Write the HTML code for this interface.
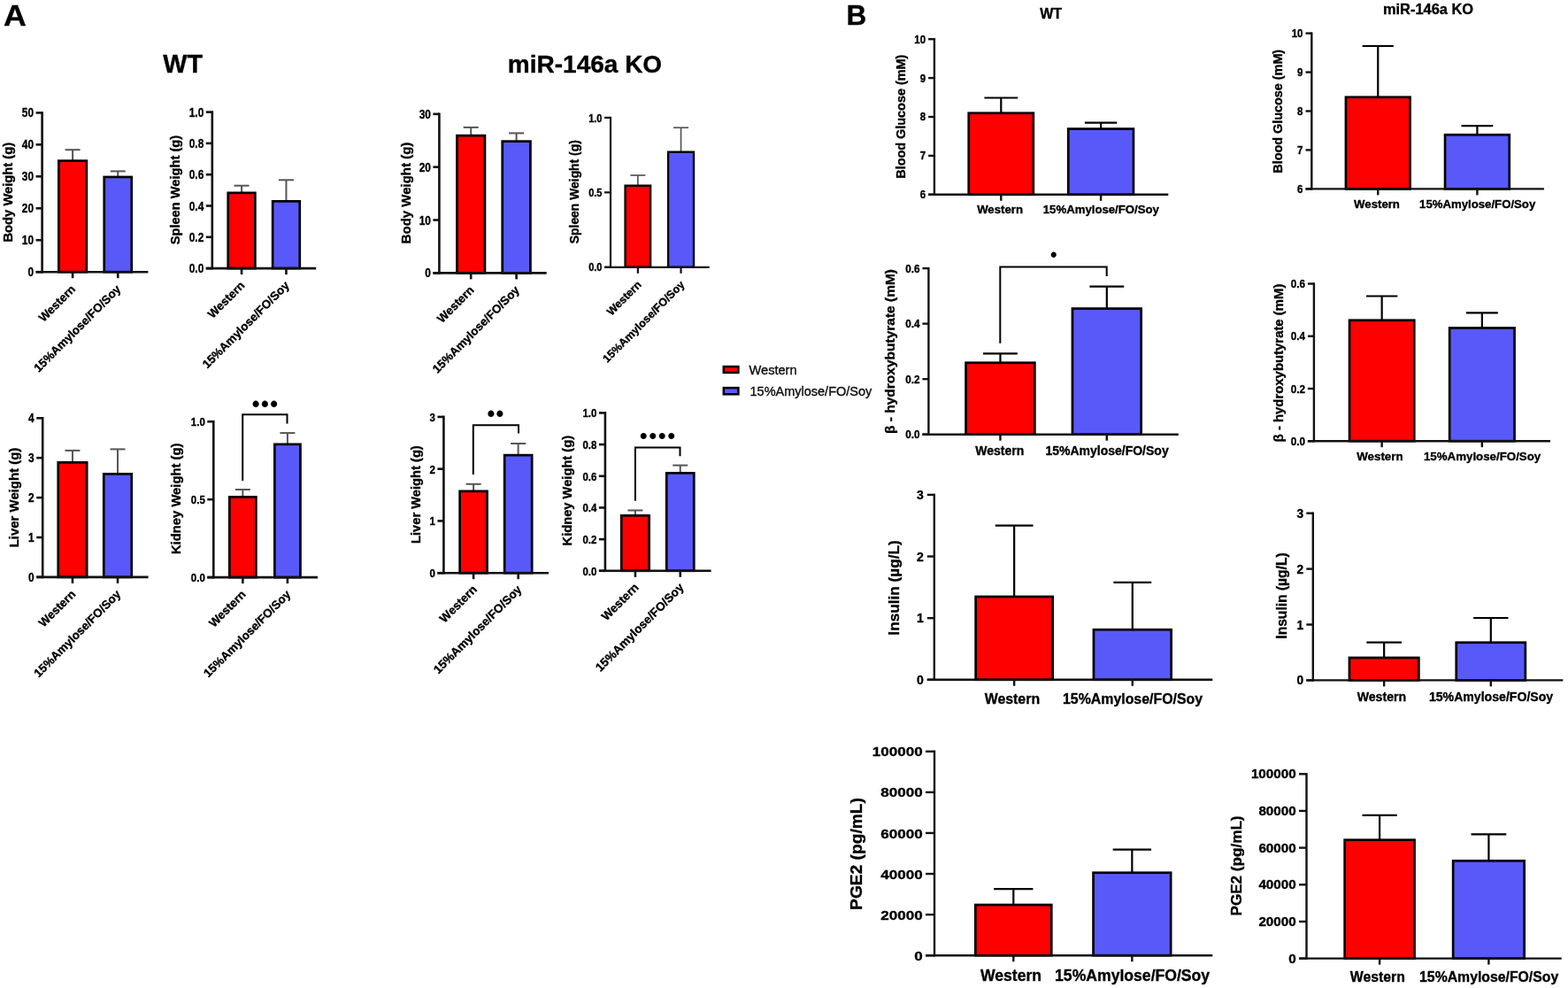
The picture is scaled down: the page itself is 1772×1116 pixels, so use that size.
<!DOCTYPE html>
<html><head><meta charset="utf-8"><title>Figure</title>
<style>html,body{margin:0;padding:0;background:#fff;}body{width:1772px;height:1116px;position:relative;overflow:hidden;}</style>
</head><body>
<svg width="1772" height="1116" viewBox="0 0 1772 1116" style="position:absolute;left:0;top:0">
<rect width="1772" height="1116" fill="#fff" stroke="none"/>
<g font-family="Liberation Sans, Arial, Helvetica, sans-serif" stroke="#000" stroke-width="0.35">
<text font-size="32.5" text-anchor="start" font-weight="bold" fill="#000" transform="translate(4 29.3) scale(1.1 1)">A</text>
<text font-size="28.8" text-anchor="middle" font-weight="bold" fill="#000" transform="translate(206.6 82.1)">WT</text>
<text font-size="28" text-anchor="middle" font-weight="bold" fill="#000" transform="translate(661 82)">miR-146a KO</text>
<text font-size="31.5" text-anchor="start" font-weight="bold" fill="#000" transform="translate(956.5 28.4)">B</text>
<text font-size="16" text-anchor="middle" font-weight="bold" fill="#000" transform="translate(1187.6 21.2)">WT</text>
<text font-size="16.4" text-anchor="middle" font-weight="bold" fill="#000" transform="translate(1614 15.6)">miR-146a KO</text>
<rect x="817.8" y="414.1" width="16.6" height="6.8" fill="#fe0000" stroke="#000" stroke-width="2.5"/>
<rect x="817.8" y="438.1" width="16.6" height="7.2" fill="#5959fa" stroke="#000" stroke-width="2.5"/>
<text font-size="14.6" text-anchor="start" font-weight="normal" fill="#111" transform="translate(846.5 422.7)">Western</text>
<text font-size="14.5" text-anchor="start" font-weight="normal" fill="#111" transform="translate(847.5 446.6)">15%Amylose/FO/Soy</text>
<line x1="47.6" y1="126.1" x2="47.6" y2="308.5" stroke="#111" stroke-width="2.6"/>
<line x1="40.6" y1="307.2" x2="47.6" y2="307.2" stroke="#111" stroke-width="2.6"/>
<text font-size="14" text-anchor="end" font-weight="bold" fill="#000" transform="translate(38.1 312.21) scale(0.85 1)">0</text>
<line x1="40.6" y1="271.24" x2="47.6" y2="271.24" stroke="#111" stroke-width="2.6"/>
<text font-size="14" text-anchor="end" font-weight="bold" fill="#000" transform="translate(38.1 276.25) scale(0.85 1)">10</text>
<line x1="40.6" y1="235.28" x2="47.6" y2="235.28" stroke="#111" stroke-width="2.6"/>
<text font-size="14" text-anchor="end" font-weight="bold" fill="#000" transform="translate(38.1 240.29) scale(0.85 1)">20</text>
<line x1="40.6" y1="199.32" x2="47.6" y2="199.32" stroke="#111" stroke-width="2.6"/>
<text font-size="14" text-anchor="end" font-weight="bold" fill="#000" transform="translate(38.1 204.33) scale(0.85 1)">30</text>
<line x1="40.6" y1="163.36" x2="47.6" y2="163.36" stroke="#111" stroke-width="2.6"/>
<text font-size="14" text-anchor="end" font-weight="bold" fill="#000" transform="translate(38.1 168.37) scale(0.85 1)">40</text>
<line x1="40.6" y1="127.4" x2="47.6" y2="127.4" stroke="#111" stroke-width="2.6"/>
<text font-size="14" text-anchor="end" font-weight="bold" fill="#000" transform="translate(38.1 132.41) scale(0.85 1)">50</text>
<line x1="82.1" y1="181.3" x2="82.1" y2="169.2" stroke="#555" stroke-width="2"/>
<line x1="73.6" y1="169.2" x2="90.6" y2="169.2" stroke="#555" stroke-width="2"/>
<rect x="66.35" y="181.65" width="31.5" height="125.55" fill="#fe0000" stroke="#000" stroke-width="2.7"/>
<line x1="82.1" y1="307.2" x2="82.1" y2="314.2" stroke="#111" stroke-width="2.6"/>
<line x1="133.25" y1="199.6" x2="133.25" y2="193.4" stroke="#555" stroke-width="2"/>
<line x1="124.75" y1="193.4" x2="141.75" y2="193.4" stroke="#555" stroke-width="2"/>
<rect x="117.75" y="199.95" width="31" height="107.25" fill="#5959fa" stroke="#000" stroke-width="2.7"/>
<line x1="133.25" y1="307.2" x2="133.25" y2="314.2" stroke="#111" stroke-width="2.6"/>
<line x1="40.6" y1="307.2" x2="167.4" y2="307.2" stroke="#111" stroke-width="2.6"/>
<text font-size="13.3" text-anchor="end" font-weight="bold" fill="#000" transform="translate(86.1 327.4) rotate(-45)">Western</text>
<text font-size="13.3" text-anchor="end" font-weight="bold" fill="#000" transform="translate(137.25 327.4) rotate(-45)">15%Amylose/FO/Soy</text>
<text font-size="14.75" text-anchor="middle" font-weight="bold" fill="#000" transform="translate(13.9 217.2) rotate(-90)">Body Weight (g)</text>
<line x1="239.8" y1="125.3" x2="239.8" y2="304.4" stroke="#111" stroke-width="2.6"/>
<line x1="232.8" y1="303.1" x2="239.8" y2="303.1" stroke="#111" stroke-width="2.6"/>
<text font-size="14" text-anchor="end" font-weight="bold" fill="#000" transform="translate(230.3 308.11) scale(0.85 1)">0.0</text>
<line x1="232.8" y1="267.8" x2="239.8" y2="267.8" stroke="#111" stroke-width="2.6"/>
<text font-size="14" text-anchor="end" font-weight="bold" fill="#000" transform="translate(230.3 272.81) scale(0.85 1)">0.2</text>
<line x1="232.8" y1="232.5" x2="239.8" y2="232.5" stroke="#111" stroke-width="2.6"/>
<text font-size="14" text-anchor="end" font-weight="bold" fill="#000" transform="translate(230.3 237.51) scale(0.85 1)">0.4</text>
<line x1="232.8" y1="197.2" x2="239.8" y2="197.2" stroke="#111" stroke-width="2.6"/>
<text font-size="14" text-anchor="end" font-weight="bold" fill="#000" transform="translate(230.3 202.21) scale(0.85 1)">0.6</text>
<line x1="232.8" y1="161.9" x2="239.8" y2="161.9" stroke="#111" stroke-width="2.6"/>
<text font-size="14" text-anchor="end" font-weight="bold" fill="#000" transform="translate(230.3 166.91) scale(0.85 1)">0.8</text>
<line x1="232.8" y1="126.6" x2="239.8" y2="126.6" stroke="#111" stroke-width="2.6"/>
<text font-size="14" text-anchor="end" font-weight="bold" fill="#000" transform="translate(230.3 131.61) scale(0.85 1)">1.0</text>
<line x1="273.05" y1="217.5" x2="273.05" y2="209.7" stroke="#555" stroke-width="2"/>
<line x1="264.55" y1="209.7" x2="281.55" y2="209.7" stroke="#555" stroke-width="2"/>
<rect x="257.75" y="217.85" width="30.6" height="85.25" fill="#fe0000" stroke="#000" stroke-width="2.7"/>
<line x1="273.05" y1="303.1" x2="273.05" y2="310.1" stroke="#111" stroke-width="2.6"/>
<line x1="323.45" y1="227" x2="323.45" y2="203.3" stroke="#555" stroke-width="2"/>
<line x1="314.95" y1="203.3" x2="331.95" y2="203.3" stroke="#555" stroke-width="2"/>
<rect x="308.15" y="227.35" width="30.6" height="75.75" fill="#5959fa" stroke="#000" stroke-width="2.7"/>
<line x1="323.45" y1="303.1" x2="323.45" y2="310.1" stroke="#111" stroke-width="2.6"/>
<line x1="232.8" y1="303.1" x2="357.2" y2="303.1" stroke="#111" stroke-width="2.6"/>
<text font-size="13.3" text-anchor="end" font-weight="bold" fill="#000" transform="translate(277.3 323.3) rotate(-45)">Western</text>
<text font-size="13.3" text-anchor="end" font-weight="bold" fill="#000" transform="translate(327.7 323.3) rotate(-45)">15%Amylose/FO/Soy</text>
<text font-size="14.66" text-anchor="middle" font-weight="bold" fill="#000" transform="translate(202.6 214.6) rotate(-90)">Spleen Weight (g)</text>
<line x1="496.4" y1="127.5" x2="496.4" y2="309.7" stroke="#111" stroke-width="2.6"/>
<line x1="489.4" y1="308.4" x2="496.4" y2="308.4" stroke="#111" stroke-width="2.6"/>
<text font-size="14" text-anchor="end" font-weight="bold" fill="#000" transform="translate(486.9 313.41) scale(0.85 1)">0</text>
<line x1="489.4" y1="248.53" x2="496.4" y2="248.53" stroke="#111" stroke-width="2.6"/>
<text font-size="14" text-anchor="end" font-weight="bold" fill="#000" transform="translate(486.9 253.55) scale(0.85 1)">10</text>
<line x1="489.4" y1="188.67" x2="496.4" y2="188.67" stroke="#111" stroke-width="2.6"/>
<text font-size="14" text-anchor="end" font-weight="bold" fill="#000" transform="translate(486.9 193.68) scale(0.85 1)">20</text>
<line x1="489.4" y1="128.8" x2="496.4" y2="128.8" stroke="#111" stroke-width="2.6"/>
<text font-size="14" text-anchor="end" font-weight="bold" fill="#000" transform="translate(486.9 133.81) scale(0.85 1)">30</text>
<line x1="532.2" y1="152.8" x2="532.2" y2="143.9" stroke="#555" stroke-width="2"/>
<line x1="523.7" y1="143.9" x2="540.7" y2="143.9" stroke="#555" stroke-width="2"/>
<rect x="516.45" y="153.15" width="31.5" height="155.25" fill="#fe0000" stroke="#000" stroke-width="2.7"/>
<line x1="532.2" y1="308.4" x2="532.2" y2="315.4" stroke="#111" stroke-width="2.6"/>
<line x1="583.6" y1="159.3" x2="583.6" y2="150.4" stroke="#555" stroke-width="2"/>
<line x1="575.1" y1="150.4" x2="592.1" y2="150.4" stroke="#555" stroke-width="2"/>
<rect x="567.75" y="159.65" width="31.7" height="148.75" fill="#5959fa" stroke="#000" stroke-width="2.7"/>
<line x1="583.6" y1="308.4" x2="583.6" y2="315.4" stroke="#111" stroke-width="2.6"/>
<line x1="489.4" y1="308.4" x2="617.7" y2="308.4" stroke="#111" stroke-width="2.6"/>
<text font-size="13.3" text-anchor="end" font-weight="bold" fill="#000" transform="translate(536.45 328.6) rotate(-45)">Western</text>
<text font-size="13.3" text-anchor="end" font-weight="bold" fill="#000" transform="translate(587.85 328.6) rotate(-45)">15%Amylose/FO/Soy</text>
<text font-size="15" text-anchor="middle" font-weight="bold" fill="#000" transform="translate(464.2 218) rotate(-90)">Body Weight (g)</text>
<line x1="690" y1="131.8" x2="690" y2="302.9" stroke="#111" stroke-width="2.2"/>
<line x1="683" y1="301.8" x2="690" y2="301.8" stroke="#111" stroke-width="2.2"/>
<text font-size="13" text-anchor="end" font-weight="bold" fill="#000" transform="translate(680.5 306.45) scale(0.85 1)">0.0</text>
<line x1="683" y1="217.35" x2="690" y2="217.35" stroke="#111" stroke-width="2.2"/>
<text font-size="13" text-anchor="end" font-weight="bold" fill="#000" transform="translate(680.5 222) scale(0.85 1)">0.5</text>
<line x1="683" y1="132.9" x2="690" y2="132.9" stroke="#111" stroke-width="2.2"/>
<text font-size="13" text-anchor="end" font-weight="bold" fill="#000" transform="translate(680.5 137.55) scale(0.85 1)">1.0</text>
<line x1="720.85" y1="209.5" x2="720.85" y2="198" stroke="#555" stroke-width="1.7"/>
<line x1="712.35" y1="198" x2="729.35" y2="198" stroke="#555" stroke-width="1.7"/>
<rect x="706.6" y="209.7" width="28.5" height="92.1" fill="#fe0000" stroke="#000" stroke-width="2.4"/>
<line x1="720.85" y1="301.8" x2="720.85" y2="308.8" stroke="#111" stroke-width="2.2"/>
<line x1="769.55" y1="171.5" x2="769.55" y2="144.2" stroke="#555" stroke-width="1.7"/>
<line x1="761.05" y1="144.2" x2="778.05" y2="144.2" stroke="#555" stroke-width="1.7"/>
<rect x="755.1" y="171.7" width="28.9" height="130.1" fill="#5959fa" stroke="#000" stroke-width="2.4"/>
<line x1="769.55" y1="301.8" x2="769.55" y2="308.8" stroke="#111" stroke-width="2.2"/>
<line x1="683" y1="301.8" x2="801.7" y2="301.8" stroke="#111" stroke-width="2.2"/>
<text font-size="12.5" text-anchor="end" font-weight="bold" fill="#000" transform="translate(725.6 322.3) rotate(-45)">Western</text>
<text font-size="12.5" text-anchor="end" font-weight="bold" fill="#000" transform="translate(774.3 322.3) rotate(-45)">15%Amylose/FO/Soy</text>
<text font-size="13.9" text-anchor="middle" font-weight="bold" fill="#000" transform="translate(653.5 216.7) rotate(-90)">Spleen Weight (g)</text>
<line x1="48.2" y1="471" x2="48.2" y2="653.2" stroke="#111" stroke-width="2.6"/>
<line x1="41.2" y1="651.9" x2="48.2" y2="651.9" stroke="#111" stroke-width="2.6"/>
<text font-size="14" text-anchor="end" font-weight="bold" fill="#000" transform="translate(38.7 656.91) scale(0.85 1)">0</text>
<line x1="41.2" y1="607" x2="48.2" y2="607" stroke="#111" stroke-width="2.6"/>
<text font-size="14" text-anchor="end" font-weight="bold" fill="#000" transform="translate(38.7 612.01) scale(0.85 1)">1</text>
<line x1="41.2" y1="562.1" x2="48.2" y2="562.1" stroke="#111" stroke-width="2.6"/>
<text font-size="14" text-anchor="end" font-weight="bold" fill="#000" transform="translate(38.7 567.11) scale(0.85 1)">2</text>
<line x1="41.2" y1="517.2" x2="48.2" y2="517.2" stroke="#111" stroke-width="2.6"/>
<text font-size="14" text-anchor="end" font-weight="bold" fill="#000" transform="translate(38.7 522.21) scale(0.85 1)">3</text>
<line x1="41.2" y1="472.3" x2="48.2" y2="472.3" stroke="#111" stroke-width="2.6"/>
<text font-size="14" text-anchor="end" font-weight="bold" fill="#000" transform="translate(38.7 477.31) scale(0.85 1)">4</text>
<line x1="81.95" y1="522" x2="81.95" y2="508.9" stroke="#555" stroke-width="2"/>
<line x1="73.45" y1="508.9" x2="90.45" y2="508.9" stroke="#555" stroke-width="2"/>
<rect x="65.75" y="522.35" width="32.4" height="129.55" fill="#fe0000" stroke="#000" stroke-width="2.7"/>
<line x1="81.95" y1="651.9" x2="81.95" y2="658.9" stroke="#111" stroke-width="2.6"/>
<line x1="133" y1="535" x2="133" y2="507.4" stroke="#555" stroke-width="2"/>
<line x1="124.5" y1="507.4" x2="141.5" y2="507.4" stroke="#555" stroke-width="2"/>
<rect x="117.25" y="535.35" width="31.5" height="116.55" fill="#5959fa" stroke="#000" stroke-width="2.7"/>
<line x1="133" y1="651.9" x2="133" y2="658.9" stroke="#111" stroke-width="2.6"/>
<line x1="41.2" y1="651.9" x2="167.6" y2="651.9" stroke="#111" stroke-width="2.6"/>
<text font-size="13.3" text-anchor="end" font-weight="bold" fill="#000" transform="translate(86.2 672.1) rotate(-45)">Western</text>
<text font-size="13.3" text-anchor="end" font-weight="bold" fill="#000" transform="translate(137.25 672.1) rotate(-45)">15%Amylose/FO/Soy</text>
<text font-size="14.95" text-anchor="middle" font-weight="bold" fill="#000" transform="translate(20.7 562) rotate(-90)">Liver Weight (g)</text>
<line x1="241.3" y1="474.9" x2="241.3" y2="653.4" stroke="#111" stroke-width="2.6"/>
<line x1="234.3" y1="652.1" x2="241.3" y2="652.1" stroke="#111" stroke-width="2.6"/>
<text font-size="13.5" text-anchor="end" font-weight="bold" fill="#000" transform="translate(231.8 656.93) scale(0.85 1)">0.0</text>
<line x1="234.3" y1="564.15" x2="241.3" y2="564.15" stroke="#111" stroke-width="2.6"/>
<text font-size="13.5" text-anchor="end" font-weight="bold" fill="#000" transform="translate(231.8 568.98) scale(0.85 1)">0.5</text>
<line x1="234.3" y1="476.2" x2="241.3" y2="476.2" stroke="#111" stroke-width="2.6"/>
<text font-size="13.5" text-anchor="end" font-weight="bold" fill="#000" transform="translate(231.8 481.03) scale(0.85 1)">1.0</text>
<line x1="274.35" y1="561" x2="274.35" y2="553" stroke="#555" stroke-width="2"/>
<line x1="265.85" y1="553" x2="282.85" y2="553" stroke="#555" stroke-width="2"/>
<rect x="259.35" y="561.35" width="30" height="90.75" fill="#fe0000" stroke="#000" stroke-width="2.7"/>
<line x1="274.35" y1="652.1" x2="274.35" y2="659.1" stroke="#111" stroke-width="2.6"/>
<line x1="324.9" y1="501.5" x2="324.9" y2="489.1" stroke="#555" stroke-width="2"/>
<line x1="316.4" y1="489.1" x2="333.4" y2="489.1" stroke="#555" stroke-width="2"/>
<rect x="310.35" y="501.85" width="29.1" height="150.25" fill="#5959fa" stroke="#000" stroke-width="2.7"/>
<line x1="324.9" y1="652.1" x2="324.9" y2="659.1" stroke="#111" stroke-width="2.6"/>
<line x1="234.3" y1="652.1" x2="359" y2="652.1" stroke="#111" stroke-width="2.6"/>
<text font-size="13.3" text-anchor="end" font-weight="bold" fill="#000" transform="translate(278.6 672.3) rotate(-45)">Western</text>
<text font-size="13.3" text-anchor="end" font-weight="bold" fill="#000" transform="translate(329.15 672.3) rotate(-45)">15%Amylose/FO/Soy</text>
<text font-size="14.8" text-anchor="middle" font-weight="bold" fill="#000" transform="translate(204.2 563.3) rotate(-90)">Kidney Weight (g)</text>
<polyline points="274.2,542.9 274.2,468.3 324.5,468.3 324.5,478.4" fill="none" stroke="#000" stroke-width="2"/>
<text x="289.2 299.4 309.6" y="464.9" font-size="25" text-anchor="middle" font-weight="bold" stroke="none">•••</text>
<line x1="501.4" y1="469.6" x2="501.4" y2="648.5" stroke="#111" stroke-width="2.6"/>
<line x1="494.4" y1="647.2" x2="501.4" y2="647.2" stroke="#111" stroke-width="2.6"/>
<text font-size="13.5" text-anchor="end" font-weight="bold" fill="#000" transform="translate(491.9 652.03) scale(0.85 1)">0</text>
<line x1="494.4" y1="588.43" x2="501.4" y2="588.43" stroke="#111" stroke-width="2.6"/>
<text font-size="13.5" text-anchor="end" font-weight="bold" fill="#000" transform="translate(491.9 593.27) scale(0.85 1)">1</text>
<line x1="494.4" y1="529.67" x2="501.4" y2="529.67" stroke="#111" stroke-width="2.6"/>
<text font-size="13.5" text-anchor="end" font-weight="bold" fill="#000" transform="translate(491.9 534.5) scale(0.85 1)">2</text>
<line x1="494.4" y1="470.9" x2="501.4" y2="470.9" stroke="#111" stroke-width="2.6"/>
<text font-size="13.5" text-anchor="end" font-weight="bold" fill="#000" transform="translate(491.9 475.73) scale(0.85 1)">3</text>
<line x1="535.1" y1="554.5" x2="535.1" y2="546.8" stroke="#555" stroke-width="2"/>
<line x1="526.6" y1="546.8" x2="543.6" y2="546.8" stroke="#555" stroke-width="2"/>
<rect x="519.65" y="554.85" width="30.9" height="92.35" fill="#fe0000" stroke="#000" stroke-width="2.7"/>
<line x1="535.1" y1="647.2" x2="535.1" y2="654.2" stroke="#111" stroke-width="2.6"/>
<line x1="585.65" y1="513.8" x2="585.65" y2="501" stroke="#555" stroke-width="2"/>
<line x1="577.15" y1="501" x2="594.15" y2="501" stroke="#555" stroke-width="2"/>
<rect x="570.15" y="514.15" width="31" height="133.05" fill="#5959fa" stroke="#000" stroke-width="2.7"/>
<line x1="585.65" y1="647.2" x2="585.65" y2="654.2" stroke="#111" stroke-width="2.6"/>
<line x1="494.4" y1="647.2" x2="620" y2="647.2" stroke="#111" stroke-width="2.6"/>
<text font-size="13.5" text-anchor="end" font-weight="bold" fill="#000" transform="translate(539.85 666.7) rotate(-45)">Western</text>
<text font-size="13.5" text-anchor="end" font-weight="bold" fill="#000" transform="translate(590.4 666.7) rotate(-45)">15%Amylose/FO/Soy</text>
<text font-size="14.7" text-anchor="middle" font-weight="bold" fill="#000" transform="translate(475.4 558.6) rotate(-90)">Liver Weight (g)</text>
<polyline points="534.8,535.9 534.8,480.2 586,480.2 586,489.5" fill="none" stroke="#000" stroke-width="2"/>
<text x="555 565" y="476.3" font-size="25" text-anchor="middle" font-weight="bold" stroke="none">••</text>
<line x1="683.9" y1="465.1" x2="683.9" y2="646.1" stroke="#111" stroke-width="2.6"/>
<line x1="676.9" y1="644.8" x2="683.9" y2="644.8" stroke="#111" stroke-width="2.6"/>
<text font-size="13.5" text-anchor="end" font-weight="bold" fill="#000" transform="translate(674.4 649.63) scale(0.85 1)">0.0</text>
<line x1="676.9" y1="609.12" x2="683.9" y2="609.12" stroke="#111" stroke-width="2.6"/>
<text font-size="13.5" text-anchor="end" font-weight="bold" fill="#000" transform="translate(674.4 613.95) scale(0.85 1)">0.2</text>
<line x1="676.9" y1="573.44" x2="683.9" y2="573.44" stroke="#111" stroke-width="2.6"/>
<text font-size="13.5" text-anchor="end" font-weight="bold" fill="#000" transform="translate(674.4 578.27) scale(0.85 1)">0.4</text>
<line x1="676.9" y1="537.76" x2="683.9" y2="537.76" stroke="#111" stroke-width="2.6"/>
<text font-size="13.5" text-anchor="end" font-weight="bold" fill="#000" transform="translate(674.4 542.59) scale(0.85 1)">0.6</text>
<line x1="676.9" y1="502.08" x2="683.9" y2="502.08" stroke="#111" stroke-width="2.6"/>
<text font-size="13.5" text-anchor="end" font-weight="bold" fill="#000" transform="translate(674.4 506.91) scale(0.85 1)">0.8</text>
<line x1="676.9" y1="466.4" x2="683.9" y2="466.4" stroke="#111" stroke-width="2.6"/>
<text font-size="13.5" text-anchor="end" font-weight="bold" fill="#000" transform="translate(674.4 471.23) scale(0.85 1)">1.0</text>
<line x1="717.95" y1="582" x2="717.95" y2="576.5" stroke="#555" stroke-width="2"/>
<line x1="709.45" y1="576.5" x2="726.45" y2="576.5" stroke="#555" stroke-width="2"/>
<rect x="702.25" y="582.35" width="31.4" height="62.45" fill="#fe0000" stroke="#000" stroke-width="2.7"/>
<line x1="717.95" y1="644.8" x2="717.95" y2="651.8" stroke="#111" stroke-width="2.6"/>
<line x1="768.75" y1="534" x2="768.75" y2="525.6" stroke="#555" stroke-width="2"/>
<line x1="760.25" y1="525.6" x2="777.25" y2="525.6" stroke="#555" stroke-width="2"/>
<rect x="753.25" y="534.35" width="31" height="110.45" fill="#5959fa" stroke="#000" stroke-width="2.7"/>
<line x1="768.75" y1="644.8" x2="768.75" y2="651.8" stroke="#111" stroke-width="2.6"/>
<line x1="676.9" y1="644.8" x2="803.6" y2="644.8" stroke="#111" stroke-width="2.6"/>
<text font-size="13.5" text-anchor="end" font-weight="bold" fill="#000" transform="translate(722.7 664.3) rotate(-45)">Western</text>
<text font-size="13.5" text-anchor="end" font-weight="bold" fill="#000" transform="translate(773.5 664.3) rotate(-45)">15%Amylose/FO/Soy</text>
<text font-size="14.7" text-anchor="middle" font-weight="bold" fill="#000" transform="translate(646.2 554.2) rotate(-90)">Kidney Weight (g)</text>
<polyline points="717.9,565.8 717.9,505.6 768.5,505.6 768.5,515.3" fill="none" stroke="#000" stroke-width="2"/>
<text x="727.15 737.65 748.15 758.65" y="501.16" font-size="24.29" text-anchor="middle" font-weight="bold" stroke="none">••••</text>
<line x1="1055.9" y1="43" x2="1055.9" y2="221" stroke="#111" stroke-width="2.4"/>
<line x1="1049.1" y1="219.8" x2="1055.9" y2="219.8" stroke="#111" stroke-width="2.4"/>
<text font-size="12.5" text-anchor="end" font-weight="bold" fill="#000" transform="translate(1046.1 224.28) scale(0.92 1)">6</text>
<line x1="1049.1" y1="175.9" x2="1055.9" y2="175.9" stroke="#111" stroke-width="2.4"/>
<text font-size="12.5" text-anchor="end" font-weight="bold" fill="#000" transform="translate(1046.1 180.38) scale(0.92 1)">7</text>
<line x1="1049.1" y1="132" x2="1055.9" y2="132" stroke="#111" stroke-width="2.4"/>
<text font-size="12.5" text-anchor="end" font-weight="bold" fill="#000" transform="translate(1046.1 136.47) scale(0.92 1)">8</text>
<line x1="1049.1" y1="88.1" x2="1055.9" y2="88.1" stroke="#111" stroke-width="2.4"/>
<text font-size="12.5" text-anchor="end" font-weight="bold" fill="#000" transform="translate(1046.1 92.57) scale(0.92 1)">9</text>
<line x1="1049.1" y1="44.2" x2="1055.9" y2="44.2" stroke="#111" stroke-width="2.4"/>
<text font-size="12.5" text-anchor="end" font-weight="bold" fill="#000" transform="translate(1046.1 48.67) scale(0.92 1)">10</text>
<line x1="1131.3" y1="127.4" x2="1131.3" y2="110.5" stroke="#000" stroke-width="2.2"/>
<line x1="1112.4" y1="110.5" x2="1150.2" y2="110.5" stroke="#000" stroke-width="2.2"/>
<rect x="1094.75" y="127.75" width="73.1" height="92.05" fill="#fe0000" stroke="#000" stroke-width="2.7"/>
<line x1="1131.3" y1="219.8" x2="1131.3" y2="226.8" stroke="#111" stroke-width="2.4"/>
<line x1="1244.1" y1="145.2" x2="1244.1" y2="138.7" stroke="#000" stroke-width="2.2"/>
<line x1="1225.9" y1="138.7" x2="1262.3" y2="138.7" stroke="#000" stroke-width="2.2"/>
<rect x="1207.25" y="145.55" width="73.7" height="74.25" fill="#5959fa" stroke="#000" stroke-width="2.7"/>
<line x1="1244.1" y1="219.8" x2="1244.1" y2="226.8" stroke="#111" stroke-width="2.4"/>
<line x1="1049.1" y1="219.8" x2="1320.3" y2="219.8" stroke="#111" stroke-width="2.4"/>
<text font-size="13.2" text-anchor="middle" font-weight="bold" fill="#000" transform="translate(1130.05 241.3)">Western</text>
<text font-size="13.2" text-anchor="middle" font-weight="bold" fill="#000" transform="translate(1244.35 241.3)">15%Amylose/FO/Soy</text>
<text font-size="14.4" text-anchor="middle" font-weight="bold" fill="#000" transform="translate(1022.8 131.7) rotate(-90)">Blood Glucose (mM)</text>
<line x1="1482.3" y1="36.4" x2="1482.3" y2="214.6" stroke="#111" stroke-width="2.4"/>
<line x1="1475.5" y1="213.4" x2="1482.3" y2="213.4" stroke="#111" stroke-width="2.4"/>
<text font-size="12.5" text-anchor="end" font-weight="bold" fill="#000" transform="translate(1472.5 217.88) scale(0.92 1)">6</text>
<line x1="1475.5" y1="169.45" x2="1482.3" y2="169.45" stroke="#111" stroke-width="2.4"/>
<text font-size="12.5" text-anchor="end" font-weight="bold" fill="#000" transform="translate(1472.5 173.92) scale(0.92 1)">7</text>
<line x1="1475.5" y1="125.5" x2="1482.3" y2="125.5" stroke="#111" stroke-width="2.4"/>
<text font-size="12.5" text-anchor="end" font-weight="bold" fill="#000" transform="translate(1472.5 129.97) scale(0.92 1)">8</text>
<line x1="1475.5" y1="81.55" x2="1482.3" y2="81.55" stroke="#111" stroke-width="2.4"/>
<text font-size="12.5" text-anchor="end" font-weight="bold" fill="#000" transform="translate(1472.5 86.02) scale(0.92 1)">9</text>
<line x1="1475.5" y1="37.6" x2="1482.3" y2="37.6" stroke="#111" stroke-width="2.4"/>
<text font-size="12.5" text-anchor="end" font-weight="bold" fill="#000" transform="translate(1472.5 42.07) scale(0.92 1)">10</text>
<line x1="1557.25" y1="109.4" x2="1557.25" y2="52" stroke="#000" stroke-width="2.2"/>
<line x1="1539.65" y1="52" x2="1574.85" y2="52" stroke="#000" stroke-width="2.2"/>
<rect x="1520.95" y="109.75" width="72.6" height="103.65" fill="#fe0000" stroke="#000" stroke-width="2.7"/>
<line x1="1557.25" y1="213.4" x2="1557.25" y2="220.4" stroke="#111" stroke-width="2.4"/>
<line x1="1669.4" y1="151.9" x2="1669.4" y2="142.2" stroke="#000" stroke-width="2.2"/>
<line x1="1651.5" y1="142.2" x2="1687.3" y2="142.2" stroke="#000" stroke-width="2.2"/>
<rect x="1633.05" y="152.25" width="72.7" height="61.15" fill="#5959fa" stroke="#000" stroke-width="2.7"/>
<line x1="1669.4" y1="213.4" x2="1669.4" y2="220.4" stroke="#111" stroke-width="2.4"/>
<line x1="1475.5" y1="213.4" x2="1744.9" y2="213.4" stroke="#111" stroke-width="2.4"/>
<text font-size="13.2" text-anchor="middle" font-weight="bold" fill="#000" transform="translate(1556 234.9)">Western</text>
<text font-size="13.2" text-anchor="middle" font-weight="bold" fill="#000" transform="translate(1669.65 234.9)">15%Amylose/FO/Soy</text>
<text font-size="14.4" text-anchor="middle" font-weight="bold" fill="#000" transform="translate(1448.7 125.8) rotate(-90)">Blood Glucose (mM)</text>
<line x1="1049.4" y1="301.9" x2="1049.4" y2="491.9" stroke="#111" stroke-width="2.4"/>
<line x1="1042.4" y1="490.7" x2="1049.4" y2="490.7" stroke="#111" stroke-width="2.4"/>
<text font-size="13" text-anchor="end" font-weight="bold" fill="#000" transform="translate(1039.4 495.35) scale(0.9 1)">0.0</text>
<line x1="1042.4" y1="428.17" x2="1049.4" y2="428.17" stroke="#111" stroke-width="2.4"/>
<text font-size="13" text-anchor="end" font-weight="bold" fill="#000" transform="translate(1039.4 432.82) scale(0.9 1)">0.2</text>
<line x1="1042.4" y1="365.63" x2="1049.4" y2="365.63" stroke="#111" stroke-width="2.4"/>
<text font-size="13" text-anchor="end" font-weight="bold" fill="#000" transform="translate(1039.4 370.29) scale(0.9 1)">0.4</text>
<line x1="1042.4" y1="303.1" x2="1049.4" y2="303.1" stroke="#111" stroke-width="2.4"/>
<text font-size="13" text-anchor="end" font-weight="bold" fill="#000" transform="translate(1039.4 307.75) scale(0.9 1)">0.6</text>
<line x1="1130.45" y1="409.4" x2="1130.45" y2="399.4" stroke="#000" stroke-width="2.2"/>
<line x1="1111.05" y1="399.4" x2="1149.85" y2="399.4" stroke="#000" stroke-width="2.2"/>
<rect x="1091.55" y="409.75" width="77.8" height="80.95" fill="#fe0000" stroke="#000" stroke-width="2.7"/>
<line x1="1130.45" y1="490.7" x2="1130.45" y2="497.7" stroke="#111" stroke-width="2.4"/>
<line x1="1250.8" y1="348.2" x2="1250.8" y2="323.6" stroke="#000" stroke-width="2.2"/>
<line x1="1231.4" y1="323.6" x2="1270.2" y2="323.6" stroke="#000" stroke-width="2.2"/>
<rect x="1211.95" y="348.55" width="77.7" height="142.15" fill="#5959fa" stroke="#000" stroke-width="2.7"/>
<line x1="1250.8" y1="490.7" x2="1250.8" y2="497.7" stroke="#111" stroke-width="2.4"/>
<line x1="1042.4" y1="490.7" x2="1331.8" y2="490.7" stroke="#111" stroke-width="2.4"/>
<text font-size="14" text-anchor="middle" font-weight="bold" fill="#000" transform="translate(1129.7 514.2)">Western</text>
<text font-size="14" text-anchor="middle" font-weight="bold" fill="#000" transform="translate(1251.05 514.2)">15%Amylose/FO/Soy</text>
<text font-size="15.5" text-anchor="middle" font-weight="bold" fill="#000" transform="translate(1011 397) rotate(-90)">β - hydroxybutyrate (mM)</text>
<polyline points="1130.3,387.7 1130.3,301.5 1250.7,301.5 1250.7,312" fill="none" stroke="#000" stroke-width="2"/>
<text x="1190.8" y="295.49" font-size="21.43" text-anchor="middle" font-weight="bold" stroke="none">•</text>
<line x1="1484.9" y1="319.3" x2="1484.9" y2="499.4" stroke="#111" stroke-width="2.4"/>
<line x1="1477.9" y1="498.2" x2="1484.9" y2="498.2" stroke="#111" stroke-width="2.4"/>
<text font-size="13" text-anchor="end" font-weight="bold" fill="#000" transform="translate(1474.9 502.85) scale(0.9 1)">0.0</text>
<line x1="1477.9" y1="438.97" x2="1484.9" y2="438.97" stroke="#111" stroke-width="2.4"/>
<text font-size="13" text-anchor="end" font-weight="bold" fill="#000" transform="translate(1474.9 443.62) scale(0.9 1)">0.2</text>
<line x1="1477.9" y1="379.73" x2="1484.9" y2="379.73" stroke="#111" stroke-width="2.4"/>
<text font-size="13" text-anchor="end" font-weight="bold" fill="#000" transform="translate(1474.9 384.39) scale(0.9 1)">0.4</text>
<line x1="1477.9" y1="320.5" x2="1484.9" y2="320.5" stroke="#111" stroke-width="2.4"/>
<text font-size="13" text-anchor="end" font-weight="bold" fill="#000" transform="translate(1474.9 325.15) scale(0.9 1)">0.6</text>
<line x1="1561.65" y1="361.4" x2="1561.65" y2="334.5" stroke="#000" stroke-width="2.2"/>
<line x1="1543.95" y1="334.5" x2="1579.35" y2="334.5" stroke="#000" stroke-width="2.2"/>
<rect x="1525.05" y="361.75" width="73.2" height="136.45" fill="#fe0000" stroke="#000" stroke-width="2.7"/>
<line x1="1561.65" y1="498.2" x2="1561.65" y2="505.2" stroke="#111" stroke-width="2.4"/>
<line x1="1674.85" y1="370.1" x2="1674.85" y2="353.4" stroke="#000" stroke-width="2.2"/>
<line x1="1656.85" y1="353.4" x2="1692.85" y2="353.4" stroke="#000" stroke-width="2.2"/>
<rect x="1638.15" y="370.45" width="73.4" height="127.75" fill="#5959fa" stroke="#000" stroke-width="2.7"/>
<line x1="1674.85" y1="498.2" x2="1674.85" y2="505.2" stroke="#111" stroke-width="2.4"/>
<line x1="1477.9" y1="498.2" x2="1752" y2="498.2" stroke="#111" stroke-width="2.4"/>
<text font-size="13.3" text-anchor="middle" font-weight="bold" fill="#000" transform="translate(1559.4 519.7)">Western</text>
<text font-size="13.3" text-anchor="middle" font-weight="bold" fill="#000" transform="translate(1675.1 519.7)">15%Amylose/FO/Soy</text>
<text font-size="14.9" text-anchor="middle" font-weight="bold" fill="#000" transform="translate(1450.1 410) rotate(-90)">β - hydroxybutyrate (mM)</text>
<line x1="1055.8" y1="557.7" x2="1055.8" y2="769" stroke="#111" stroke-width="2.4"/>
<line x1="1047.8" y1="767.8" x2="1055.8" y2="767.8" stroke="#111" stroke-width="2.4"/>
<text font-size="14" text-anchor="end" font-weight="bold" fill="#000" transform="translate(1043.8 772.81)">0</text>
<line x1="1047.8" y1="698.17" x2="1055.8" y2="698.17" stroke="#111" stroke-width="2.4"/>
<text font-size="14" text-anchor="end" font-weight="bold" fill="#000" transform="translate(1043.8 703.18)">1</text>
<line x1="1047.8" y1="628.53" x2="1055.8" y2="628.53" stroke="#111" stroke-width="2.4"/>
<text font-size="14" text-anchor="end" font-weight="bold" fill="#000" transform="translate(1043.8 633.55)">2</text>
<line x1="1047.8" y1="558.9" x2="1055.8" y2="558.9" stroke="#111" stroke-width="2.4"/>
<text font-size="14" text-anchor="end" font-weight="bold" fill="#000" transform="translate(1043.8 563.91)">3</text>
<line x1="1146.15" y1="673.6" x2="1146.15" y2="593.7" stroke="#000" stroke-width="2.2"/>
<line x1="1124.75" y1="593.7" x2="1167.55" y2="593.7" stroke="#000" stroke-width="2.2"/>
<rect x="1102.65" y="673.95" width="87" height="93.85" fill="#fe0000" stroke="#000" stroke-width="2.7"/>
<line x1="1146.15" y1="767.8" x2="1146.15" y2="774.8" stroke="#111" stroke-width="2.4"/>
<line x1="1279.8" y1="710.9" x2="1279.8" y2="657.8" stroke="#000" stroke-width="2.2"/>
<line x1="1258.4" y1="657.8" x2="1301.2" y2="657.8" stroke="#000" stroke-width="2.2"/>
<rect x="1235.95" y="711.25" width="87.7" height="56.55" fill="#5959fa" stroke="#000" stroke-width="2.7"/>
<line x1="1279.8" y1="767.8" x2="1279.8" y2="774.8" stroke="#111" stroke-width="2.4"/>
<line x1="1047.8" y1="767.8" x2="1370.3" y2="767.8" stroke="#111" stroke-width="2.4"/>
<text font-size="15.9" text-anchor="middle" font-weight="bold" fill="#000" transform="translate(1143.9 794.8)">Western</text>
<text font-size="15.9" text-anchor="middle" font-weight="bold" fill="#000" transform="translate(1280.05 794.8)">15%Amylose/FO/Soy</text>
<text font-size="17.2" text-anchor="middle" font-weight="bold" fill="#000" transform="translate(1016 664) rotate(-90)">Insulin (µg/L)</text>
<line x1="1483.8" y1="578.5" x2="1483.8" y2="769.6" stroke="#111" stroke-width="2.4"/>
<line x1="1476.3" y1="768.4" x2="1483.8" y2="768.4" stroke="#111" stroke-width="2.4"/>
<text font-size="14" text-anchor="end" font-weight="bold" fill="#000" transform="translate(1473.1 773.41) scale(0.98 1)">0</text>
<line x1="1476.3" y1="705.5" x2="1483.8" y2="705.5" stroke="#111" stroke-width="2.4"/>
<text font-size="14" text-anchor="end" font-weight="bold" fill="#000" transform="translate(1473.1 710.51) scale(0.98 1)">1</text>
<line x1="1476.3" y1="642.6" x2="1483.8" y2="642.6" stroke="#111" stroke-width="2.4"/>
<text font-size="14" text-anchor="end" font-weight="bold" fill="#000" transform="translate(1473.1 647.61) scale(0.98 1)">2</text>
<line x1="1476.3" y1="579.7" x2="1483.8" y2="579.7" stroke="#111" stroke-width="2.4"/>
<text font-size="14" text-anchor="end" font-weight="bold" fill="#000" transform="translate(1473.1 584.71) scale(0.98 1)">3</text>
<line x1="1564.15" y1="742.6" x2="1564.15" y2="725.7" stroke="#000" stroke-width="2.2"/>
<line x1="1544.35" y1="725.7" x2="1583.95" y2="725.7" stroke="#000" stroke-width="2.2"/>
<rect x="1524.95" y="742.95" width="78.4" height="25.45" fill="#fe0000" stroke="#000" stroke-width="2.7"/>
<line x1="1564.15" y1="768.4" x2="1564.15" y2="775.4" stroke="#111" stroke-width="2.4"/>
<line x1="1684.8" y1="725.4" x2="1684.8" y2="698" stroke="#000" stroke-width="2.2"/>
<line x1="1665.1" y1="698" x2="1704.5" y2="698" stroke="#000" stroke-width="2.2"/>
<rect x="1645.75" y="725.75" width="78.1" height="42.65" fill="#5959fa" stroke="#000" stroke-width="2.7"/>
<line x1="1684.8" y1="768.4" x2="1684.8" y2="775.4" stroke="#111" stroke-width="2.4"/>
<line x1="1476.3" y1="768.4" x2="1766.4" y2="768.4" stroke="#111" stroke-width="2.4"/>
<text font-size="14.1" text-anchor="middle" font-weight="bold" fill="#000" transform="translate(1561.4 791.9)">Western</text>
<text font-size="14.1" text-anchor="middle" font-weight="bold" fill="#000" transform="translate(1685.05 791.9)">15%Amylose/FO/Soy</text>
<text font-size="15.6" text-anchor="middle" font-weight="bold" fill="#000" transform="translate(1454.2 673) rotate(-90)">Insulin (µg/L)</text>
<line x1="1056" y1="847.6" x2="1056" y2="1080.4" stroke="#111" stroke-width="2.4"/>
<line x1="1046" y1="1079.2" x2="1056" y2="1079.2" stroke="#111" stroke-width="2.4"/>
<text font-size="15.5" text-anchor="end" font-weight="bold" fill="#000" transform="translate(1042.7 1084.75) scale(1.1 1)">0</text>
<line x1="1046" y1="1033.12" x2="1056" y2="1033.12" stroke="#111" stroke-width="2.4"/>
<text font-size="15.5" text-anchor="end" font-weight="bold" fill="#000" transform="translate(1042.7 1038.67) scale(1.1 1)">20000</text>
<line x1="1046" y1="987.04" x2="1056" y2="987.04" stroke="#111" stroke-width="2.4"/>
<text font-size="15.5" text-anchor="end" font-weight="bold" fill="#000" transform="translate(1042.7 992.59) scale(1.1 1)">40000</text>
<line x1="1046" y1="940.96" x2="1056" y2="940.96" stroke="#111" stroke-width="2.4"/>
<text font-size="15.5" text-anchor="end" font-weight="bold" fill="#000" transform="translate(1042.7 946.51) scale(1.1 1)">60000</text>
<line x1="1046" y1="894.88" x2="1056" y2="894.88" stroke="#111" stroke-width="2.4"/>
<text font-size="15.5" text-anchor="end" font-weight="bold" fill="#000" transform="translate(1042.7 900.43) scale(1.1 1)">80000</text>
<line x1="1046" y1="848.8" x2="1056" y2="848.8" stroke="#111" stroke-width="2.4"/>
<text font-size="15.5" text-anchor="end" font-weight="bold" fill="#000" transform="translate(1042.7 854.35) scale(1.1 1)">100000</text>
<line x1="1145.3" y1="1021.7" x2="1145.3" y2="1004.2" stroke="#000" stroke-width="2.2"/>
<line x1="1123.2" y1="1004.2" x2="1167.4" y2="1004.2" stroke="#000" stroke-width="2.2"/>
<rect x="1102.35" y="1022.05" width="85.9" height="57.15" fill="#fe0000" stroke="#000" stroke-width="2.7"/>
<line x1="1145.3" y1="1079.2" x2="1145.3" y2="1086.2" stroke="#111" stroke-width="2.4"/>
<line x1="1279.35" y1="985.4" x2="1279.35" y2="959.7" stroke="#000" stroke-width="2.2"/>
<line x1="1257.65" y1="959.7" x2="1301.05" y2="959.7" stroke="#000" stroke-width="2.2"/>
<rect x="1235.55" y="985.75" width="87.6" height="93.45" fill="#5959fa" stroke="#000" stroke-width="2.7"/>
<line x1="1279.35" y1="1079.2" x2="1279.35" y2="1086.2" stroke="#111" stroke-width="2.4"/>
<line x1="1046" y1="1079.2" x2="1370.3" y2="1079.2" stroke="#111" stroke-width="2.4"/>
<text font-size="17.6" text-anchor="middle" font-weight="bold" fill="#000" transform="translate(1142.55 1107.7)">Western</text>
<text font-size="17.6" text-anchor="middle" font-weight="bold" fill="#000" transform="translate(1279.6 1107.7)">15%Amylose/FO/Soy</text>
<text font-size="19.2" text-anchor="middle" font-weight="bold" fill="#000" transform="translate(973.5 964.5) rotate(-90)">PGE2 (pg/mL)</text>
<line x1="1476.5" y1="873.1" x2="1476.5" y2="1083.8" stroke="#111" stroke-width="2.4"/>
<line x1="1468" y1="1082.6" x2="1476.5" y2="1082.6" stroke="#111" stroke-width="2.4"/>
<text font-size="14.5" text-anchor="end" font-weight="bold" fill="#000" transform="translate(1464.7 1087.79) scale(1.05 1)">0</text>
<line x1="1468" y1="1040.94" x2="1476.5" y2="1040.94" stroke="#111" stroke-width="2.4"/>
<text font-size="14.5" text-anchor="end" font-weight="bold" fill="#000" transform="translate(1464.7 1046.13) scale(1.05 1)">20000</text>
<line x1="1468" y1="999.28" x2="1476.5" y2="999.28" stroke="#111" stroke-width="2.4"/>
<text font-size="14.5" text-anchor="end" font-weight="bold" fill="#000" transform="translate(1464.7 1004.47) scale(1.05 1)">40000</text>
<line x1="1468" y1="957.62" x2="1476.5" y2="957.62" stroke="#111" stroke-width="2.4"/>
<text font-size="14.5" text-anchor="end" font-weight="bold" fill="#000" transform="translate(1464.7 962.81) scale(1.05 1)">60000</text>
<line x1="1468" y1="915.96" x2="1476.5" y2="915.96" stroke="#111" stroke-width="2.4"/>
<text font-size="14.5" text-anchor="end" font-weight="bold" fill="#000" transform="translate(1464.7 921.15) scale(1.05 1)">80000</text>
<line x1="1468" y1="874.3" x2="1476.5" y2="874.3" stroke="#111" stroke-width="2.4"/>
<text font-size="14.5" text-anchor="end" font-weight="bold" fill="#000" transform="translate(1464.7 879.49) scale(1.05 1)">100000</text>
<line x1="1559.1" y1="948.4" x2="1559.1" y2="920.8" stroke="#000" stroke-width="2.2"/>
<line x1="1539.5" y1="920.8" x2="1578.7" y2="920.8" stroke="#000" stroke-width="2.2"/>
<rect x="1519.65" y="948.75" width="78.9" height="133.85" fill="#fe0000" stroke="#000" stroke-width="2.7"/>
<line x1="1559.1" y1="1082.6" x2="1559.1" y2="1089.6" stroke="#111" stroke-width="2.4"/>
<line x1="1682.4" y1="972" x2="1682.4" y2="942.4" stroke="#000" stroke-width="2.2"/>
<line x1="1662.5" y1="942.4" x2="1702.3" y2="942.4" stroke="#000" stroke-width="2.2"/>
<rect x="1642.15" y="972.35" width="80.5" height="110.25" fill="#5959fa" stroke="#000" stroke-width="2.7"/>
<line x1="1682.4" y1="1082.6" x2="1682.4" y2="1089.6" stroke="#111" stroke-width="2.4"/>
<line x1="1468" y1="1082.6" x2="1764.7" y2="1082.6" stroke="#111" stroke-width="2.4"/>
<text font-size="15.8" text-anchor="middle" font-weight="bold" fill="#000" transform="translate(1556.85 1108.6)">Western</text>
<text font-size="15.8" text-anchor="middle" font-weight="bold" fill="#000" transform="translate(1682.65 1108.6)">15%Amylose/FO/Soy</text>
<text font-size="17.1" text-anchor="middle" font-weight="bold" fill="#000" transform="translate(1403.4 978) rotate(-90)">PGE2 (pg/mL)</text>
</g></svg>
</body></html>
